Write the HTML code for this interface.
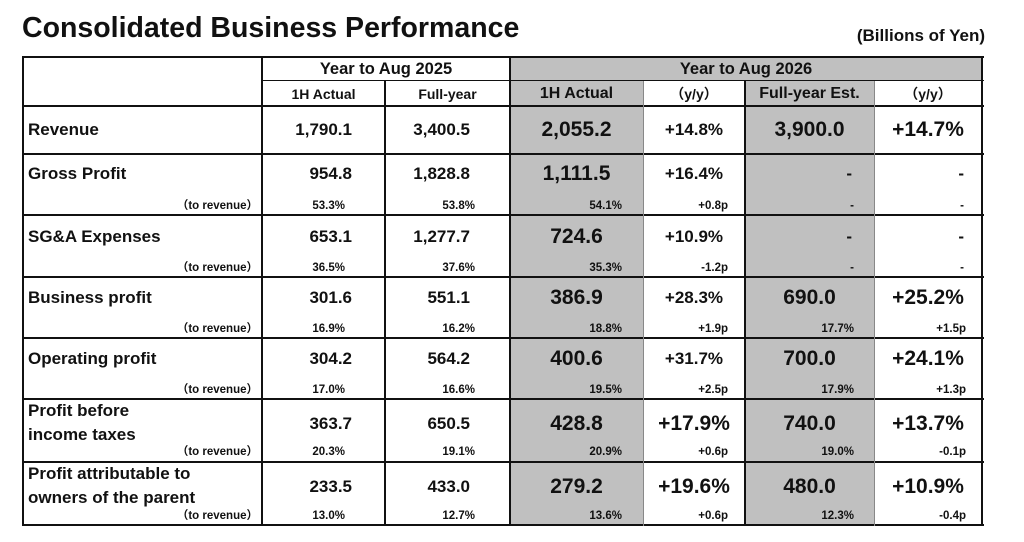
<!DOCTYPE html>
<html><head><meta charset="utf-8"><style>
body{margin:0;width:1024px;height:542px;background:#fff;position:relative;overflow:hidden;font-family:"Liberation Sans",Arial,"Noto Sans CJK JP",sans-serif;font-weight:bold;color:#111}
div{position:absolute}
.g{background:#c0c0c0}
.h{background:#111;height:2px}
.v{background:#111;width:2px}
.t{height:20px;line-height:20px;white-space:nowrap}
.L{left:28px;font-size:17px}
.m{font-size:17px}
.M{font-size:21px}
.s{font-size:11.5px;height:14px;line-height:14px}
.ctr{text-align:center}
</style></head><body>
<div class="t" style="left:22px;top:12px;height:32px;line-height:32px;font-size:28.5px">Consolidated Business Performance</div>
<div class="t" style="right:39px;top:26px;font-size:17px">(Billions of Yen)</div>

<div class="g" style="left:510px;top:57px;width:472px;height:24px"></div>
<div class="g" style="left:510px;top:81px;width:133px;height:444px"></div>
<div class="g" style="left:745px;top:81px;width:129px;height:444px"></div>

<div class="h" style="left:22px;top:56px;width:962px"></div>
<div class="h" style="left:262px;top:80px;width:722px;height:1px"></div>
<div class="h" style="left:22px;top:105px;width:962px"></div>
<div class="h" style="left:22px;top:153px;width:962px"></div>
<div class="h" style="left:22px;top:214px;width:962px"></div>
<div class="h" style="left:22px;top:276px;width:962px"></div>
<div class="h" style="left:22px;top:337px;width:962px"></div>
<div class="h" style="left:22px;top:398px;width:962px"></div>
<div class="h" style="left:22px;top:461px;width:962px"></div>
<div class="h" style="left:22px;top:524px;width:962px"></div>
<div class="v" style="left:22px;top:56px;height:470px"></div>
<div class="v" style="left:261px;top:56px;height:470px"></div>
<div class="v" style="left:384px;top:81px;height:445px"></div>
<div class="v" style="left:509px;top:56px;height:470px"></div>
<div class="v" style="left:643px;top:81px;height:445px;width:1px;background:#888"></div>
<div class="v" style="left:744px;top:81px;height:445px"></div>
<div class="v" style="left:874px;top:81px;height:445px;width:1px;background:#888"></div>
<div class="v" style="left:981px;top:56px;height:470px"></div>

<div class="t ctr" style="left:262px;width:248px;top:59px;font-size:16.5px">Year to Aug 2025</div>
<div class="t ctr" style="left:510px;width:472px;top:59px;font-size:16.5px">Year to Aug 2026</div>
<div class="t ctr" style="left:262px;width:123px;top:84px;font-size:14px">1H Actual</div>
<div class="t ctr" style="left:385px;width:125px;top:84px;font-size:14px">Full-year</div>
<div class="t ctr" style="left:510px;width:133px;top:84px;font-size:16px">1H Actual</div>
<div class="t ctr" style="left:643px;width:102px;top:84px;font-size:14px">（y/y）</div>
<div class="t ctr" style="left:745px;width:129px;top:84px;font-size:16px">Full-year Est.</div>
<div class="t ctr" style="left:874px;width:108px;top:84px;font-size:14px">（y/y）</div>

<div class="t L" style="top:120px">Revenue</div>
<div class="t m" style="right:672px;top:120px">1,790.1</div>
<div class="t m" style="right:554px;top:120px">3,400.5</div>
<div class="t M ctr" style="left:510px;width:133px;top:120px">2,055.2</div>
<div class="t m ctr" style="left:643px;width:102px;top:120px">+14.8%</div>
<div class="t M ctr" style="left:745px;width:129px;top:120px">3,900.0</div>
<div class="t M ctr" style="left:874px;width:108px;top:120px">+14.7%</div>

<div class="t L" style="top:164px">Gross Profit</div>
<div class="t m" style="right:672px;top:164px">954.8</div>
<div class="t m" style="right:554px;top:164px">1,828.8</div>
<div class="t M ctr" style="left:510px;width:133px;top:164px">1,111.5</div>
<div class="t m ctr" style="left:643px;width:102px;top:164px">+16.4%</div>
<div class="t m" style="right:172px;top:164px">-</div>
<div class="t m" style="right:60px;top:164px">-</div>
<div class="t s" style="right:766px;top:199px">（to revenue）</div>
<div class="t s" style="right:679px;top:199px">53.3%</div>
<div class="t s" style="right:549px;top:199px">53.8%</div>
<div class="t s" style="right:402px;top:199px">54.1%</div>
<div class="t s" style="right:296px;top:199px">+0.8p</div>
<div class="t s" style="right:170px;top:199px">-</div>
<div class="t s" style="right:60px;top:199px">-</div>

<div class="t L" style="top:227px">SG&amp;A Expenses</div>
<div class="t m" style="right:672px;top:227px">653.1</div>
<div class="t m" style="right:554px;top:227px">1,277.7</div>
<div class="t M ctr" style="left:510px;width:133px;top:227px">724.6</div>
<div class="t m ctr" style="left:643px;width:102px;top:227px">+10.9%</div>
<div class="t m" style="right:172px;top:227px">-</div>
<div class="t m" style="right:60px;top:227px">-</div>
<div class="t s" style="right:766px;top:261px">（to revenue）</div>
<div class="t s" style="right:679px;top:261px">36.5%</div>
<div class="t s" style="right:549px;top:261px">37.6%</div>
<div class="t s" style="right:402px;top:261px">35.3%</div>
<div class="t s" style="right:296px;top:261px">-1.2p</div>
<div class="t s" style="right:170px;top:261px">-</div>
<div class="t s" style="right:60px;top:261px">-</div>

<div class="t L" style="top:288px">Business profit</div>
<div class="t m" style="right:672px;top:288px">301.6</div>
<div class="t m" style="right:554px;top:288px">551.1</div>
<div class="t M ctr" style="left:510px;width:133px;top:288px">386.9</div>
<div class="t m ctr" style="left:643px;width:102px;top:288px">+28.3%</div>
<div class="t M ctr" style="left:745px;width:129px;top:288px">690.0</div>
<div class="t M ctr" style="left:874px;width:108px;top:288px">+25.2%</div>
<div class="t s" style="right:766px;top:322px">（to revenue）</div>
<div class="t s" style="right:679px;top:322px">16.9%</div>
<div class="t s" style="right:549px;top:322px">16.2%</div>
<div class="t s" style="right:402px;top:322px">18.8%</div>
<div class="t s" style="right:296px;top:322px">+1.9p</div>
<div class="t s" style="right:170px;top:322px">17.7%</div>
<div class="t s" style="right:58px;top:322px">+1.5p</div>

<div class="t L" style="top:349px">Operating profit</div>
<div class="t m" style="right:672px;top:349px">304.2</div>
<div class="t m" style="right:554px;top:349px">564.2</div>
<div class="t M ctr" style="left:510px;width:133px;top:349px">400.6</div>
<div class="t m ctr" style="left:643px;width:102px;top:349px">+31.7%</div>
<div class="t M ctr" style="left:745px;width:129px;top:349px">700.0</div>
<div class="t M ctr" style="left:874px;width:108px;top:349px">+24.1%</div>
<div class="t s" style="right:766px;top:383px">（to revenue）</div>
<div class="t s" style="right:679px;top:383px">17.0%</div>
<div class="t s" style="right:549px;top:383px">16.6%</div>
<div class="t s" style="right:402px;top:383px">19.5%</div>
<div class="t s" style="right:296px;top:383px">+2.5p</div>
<div class="t s" style="right:170px;top:383px">17.9%</div>
<div class="t s" style="right:58px;top:383px">+1.3p</div>

<div class="t L" style="top:401px">Profit before</div>
<div class="t L" style="top:425px">income taxes</div>
<div class="t m" style="right:672px;top:414px">363.7</div>
<div class="t m" style="right:554px;top:414px">650.5</div>
<div class="t M ctr" style="left:510px;width:133px;top:414px">428.8</div>
<div class="t M ctr" style="left:643px;width:102px;top:414px">+17.9%</div>
<div class="t M ctr" style="left:745px;width:129px;top:414px">740.0</div>
<div class="t M ctr" style="left:874px;width:108px;top:414px">+13.7%</div>
<div class="t s" style="right:766px;top:445px">（to revenue）</div>
<div class="t s" style="right:679px;top:445px">20.3%</div>
<div class="t s" style="right:549px;top:445px">19.1%</div>
<div class="t s" style="right:402px;top:445px">20.9%</div>
<div class="t s" style="right:296px;top:445px">+0.6p</div>
<div class="t s" style="right:170px;top:445px">19.0%</div>
<div class="t s" style="right:58px;top:445px">-0.1p</div>

<div class="t L" style="top:464px">Profit attributable to</div>
<div class="t L" style="top:488px">owners of the parent</div>
<div class="t m" style="right:672px;top:477px">233.5</div>
<div class="t m" style="right:554px;top:477px">433.0</div>
<div class="t M ctr" style="left:510px;width:133px;top:477px">279.2</div>
<div class="t M ctr" style="left:643px;width:102px;top:477px">+19.6%</div>
<div class="t M ctr" style="left:745px;width:129px;top:477px">480.0</div>
<div class="t M ctr" style="left:874px;width:108px;top:477px">+10.9%</div>
<div class="t s" style="right:766px;top:509px">（to revenue）</div>
<div class="t s" style="right:679px;top:509px">13.0%</div>
<div class="t s" style="right:549px;top:509px">12.7%</div>
<div class="t s" style="right:402px;top:509px">13.6%</div>
<div class="t s" style="right:296px;top:509px">+0.6p</div>
<div class="t s" style="right:170px;top:509px">12.3%</div>
<div class="t s" style="right:58px;top:509px">-0.4p</div>
</body></html>
